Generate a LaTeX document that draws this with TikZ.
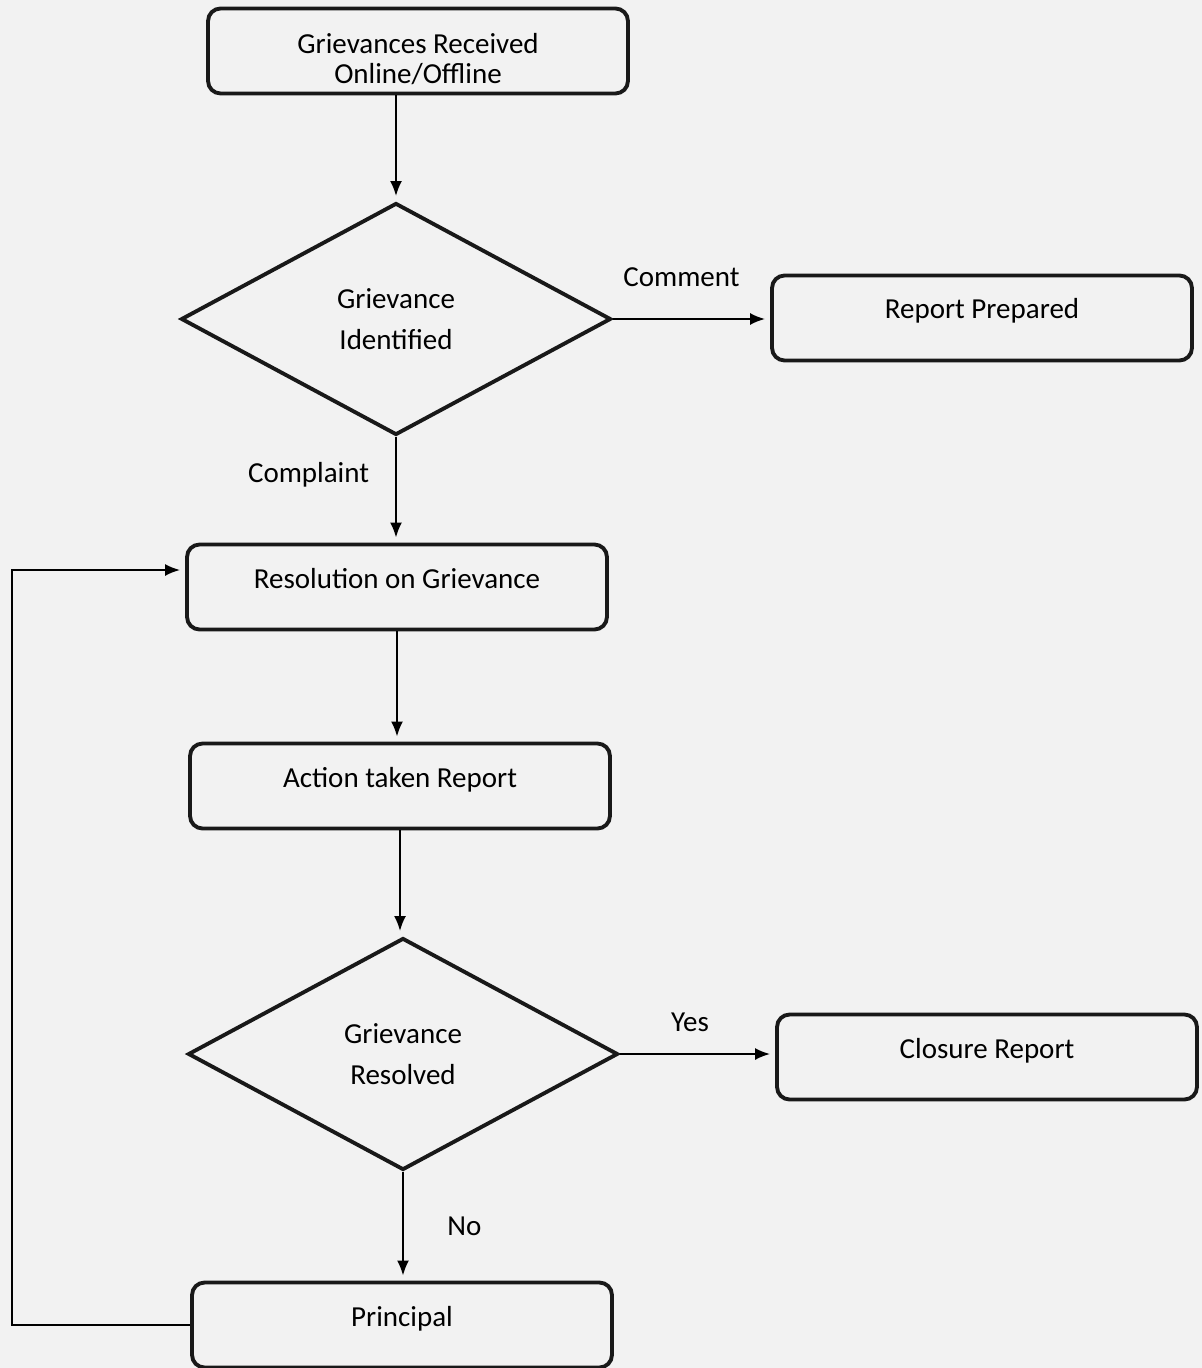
\documentclass[tikz,border=0pt]{standalone}
\usepackage{fontspec}
\setmainfont{Carlito}
\usetikzlibrary{arrows}
\usetikzlibrary{arrows.meta}
\usetikzlibrary{positioning}
\usetikzlibrary{shapes}
\newcommand{\boxfont}{\fontsize{16.5}{17}\selectfont}
\newcommand{\decfont}{\fontsize{16.5}{23}\selectfont}
\tikzset{
  stepbox/.style={
    draw=black!90, line width=2.2pt, rounded corners=2.5mm,
    minimum width=8.4cm, minimum height=1.7cm,
    text height=0.4cm, text depth=0.36cm,
    align=center, font=\boxfont
  },
  decision/.style={
    draw=black!90, diamond, line width=2.2pt, inner sep=0,
    minimum width=8.6cm, minimum height=4.64cm,
    align=center, font=\decfont
  },
  label/.style={font=\boxfont},
  arrow/.style={->,>={Latex[length=3mm,width=2.4mm]}, shorten >=1mm, line width=1.2pt}
}

\begin{document}
\begin{tikzpicture}[x=0.02cm, y=-0.02cm]
  \fill[black!5] (0,0) rectangle (1202,1368);
  \useasboundingbox (0,0) rectangle (1202,1368);

  % main column
  \node[stepbox, text height=1.38cm, text depth=0.08cm] (received) at (418,51) {Grievances Received\\Online/Offline};
  \node[decision] (identified) at (396,319) {Grievance\\Identified};
  \node[stepbox] (resolution) at (397,587) {Resolution on Grievance};
  \node[stepbox] (action) at (400,786) {Action taken Report};
  \node[decision] (resolved) at (403,1054) {Grievance\\Resolved};
  \node[stepbox] (principal) at (402,1325) {Principal};

  % right column
  \node[stepbox] (prepared) at (982,318) {Report Prepared};
  \node[stepbox] (closure) at (987,1057) {Closure Report};

  % connectors
  \draw[arrow] (received.south -| identified.north) -- (identified.north);
  \draw[arrow] (identified.east) -- (identified.east -| prepared.west)
    node[label, midway, above=5mm, xshift=-2mm] {Comment};
  \draw[arrow] (identified.south) -- (identified.south |- resolution.north)
    node[label, midway, left=4mm, yshift=3mm] {Complaint};
  \draw[arrow] (resolution.south) -- (resolution.south |- action.north);
  \draw[arrow] (action.south) -- (action.south |- resolved.north);
  \draw[arrow] (resolved.east) -- (resolved.east -| closure.west)
    node[label, midway, above=3mm, xshift=-1.5mm] {Yes};
  \draw[arrow] (resolved.south) -- (resolved.south |- principal.north)
    node[label, midway, right=7.5mm] {No};

  % back to resolution
  \coordinate (loopdown) at (12,1325);
  \coordinate (loopup) at (12,570);
  \draw[arrow] (principal.west) -- (loopdown) -- (loopup) -- (loopup -| resolution.west);
\end{tikzpicture}
\end{document}
